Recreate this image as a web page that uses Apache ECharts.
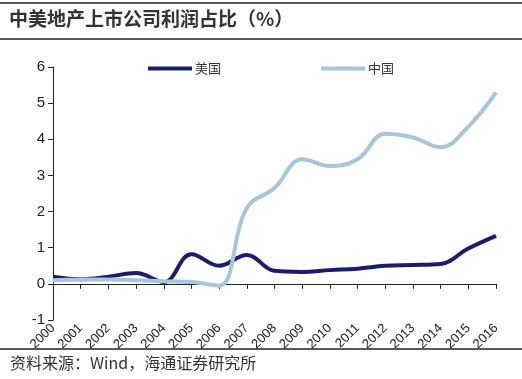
<!DOCTYPE html>
<html><head><meta charset="utf-8">
<script src="https://cdn.jsdelivr.net/npm/echarts@6/dist/echarts.min.js"></script>
<style>html,body{margin:0;padding:0;background:#fff}#c{width:522px;height:379px}</style>
</head><body><div id="c"></div>
<script>
const years = ['2000','2001','2002','2003','2004','2005','2006','2007','2008','2009','2010','2011','2012','2013','2014','2015','2016'];
const usValues = [0.2,0.13,0.2,0.3,0.05,0.82,0.5,0.8,0.36,0.33,0.38,0.42,0.5,0.52,0.55,0.98,1.33];
const cnValues = [0.1,0.12,0.12,0.1,0.07,0.05,-0.05,2.1,2.65,3.45,3.26,3.45,4.15,4.05,3.78,4.35,5.3];
const yTicks = [-1,0,1,2,3,4,5,6];
const titleText = '中美地产上市公司利润占比（%）';
const sourceText = '资料来源：Wind，海通证券研究所';

const chart = echarts.init(document.getElementById('c'));
chart.setOption({
  animation:false,
  backgroundColor:'#fff',
  graphic:[
    {type:'line',shape:{x1:0,y1:3,x2:522,y2:3},style:{stroke:'#222',lineWidth:1.5}},
    {type:'text',left:9,top:9,style:{text:titleText,font:'bold 19px "Noto Sans CJK SC"',fill:'#333'}},
    {type:'line',shape:{x1:0,y1:39,x2:522,y2:39},style:{stroke:'#222',lineWidth:1.5}},
    {type:'line',shape:{x1:0,y1:349,x2:522,y2:349},style:{stroke:'#222',lineWidth:1.5}},
    {type:'text',left:10,top:355,style:{text:sourceText,font:'16px "Noto Sans CJK SC"',fill:'#333'}}
  ],
  legend:{
    top:57,left:143,itemGap:100,itemWidth:44,itemHeight:4,
    icon:'rect',
    textStyle:{fontFamily:'"Noto Sans CJK SC"',fontSize:13,color:'#333',padding:[0,0,0,-2]},
    data:['美国','中国']
  },
  grid:{left:53,right:26,top:67,bottom:59,containLabel:false},
  xAxis:{
    type:'category',data:years,boundaryGap:false,
    axisLine:{onZero:true,lineStyle:{color:'#222',width:1}},
    axisTick:{show:true,alignWithLabel:true,length:5,lineStyle:{color:'#222'}},
    axisLabel:{rotate:45,fontFamily:'"Liberation Sans", Arial',fontSize:13,color:'#222',margin:6,interval:0}
  },
  yAxis:{
    type:'value',min:-1,max:6,interval:1,
    axisLine:{show:true,lineStyle:{color:'#222',width:1}},
    axisTick:{show:true,length:5,lineStyle:{color:'#222'}},
    splitLine:{show:false},
    axisLabel:{fontFamily:'"Liberation Sans", Arial',fontSize:15,color:'#222',margin:8}
  },
  series:[
    {name:'美国',type:'line',data:usValues,smooth:0.4,symbol:'none',
     lineStyle:{color:'#1c1c6b',width:4},itemStyle:{color:'#1c1c6b'}},
    {name:'中国',type:'line',data:cnValues,smooth:0.4,symbol:'none',
     lineStyle:{color:'#a8c6da',width:4},itemStyle:{color:'#a8c6da'}}
  ]
});
</script></body></html>
